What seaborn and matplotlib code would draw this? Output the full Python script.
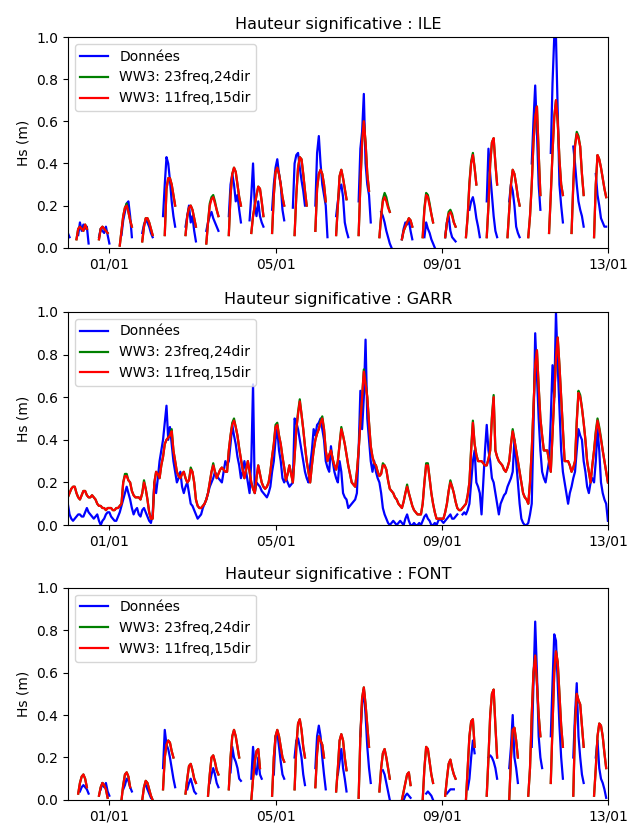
import numpy as np
import pandas as pd
import matplotlib
matplotlib.use("Agg")
import matplotlib.pyplot as plt
import matplotlib.dates as mdates
from matplotlib.lines import Line2D
import seaborn as sns

nan = np.nan
START = pd.Timestamp("2018-12-31 00:00")
END = pd.Timestamp("2019-01-13 00:00")

series_labels = ["Données", "WW3: 23freq,24dir", "WW3: 11freq,15dir"]
series_colors = ["blue", "green", "red"]
sites = ["ILE", "GARR", "FONT"]
yticks = [0.0, 0.2, 0.4, 0.6, 0.8, 1.0]

# ---------------- ILE (hourly pulses: start hour since 31/12 00h, values) ----------------
ile_blue_start = [0, 6, 18, 31, 43, 55, 68, 80, 93, 105, 118, 130, 143, 155, 168, 181, 193,
                  206, 218, 232, 242, 255, 268, 279, 292, 305]
ile_blue = [
    [0.07, 0.05],
    [0.06, 0.12, 0.08, 0.11, 0.09, 0.10, 0.02],
    [0.05, 0.09, 0.08, 0.07, 0.10, 0.06, 0.02],
    [0.06, 0.13, 0.17, 0.21, 0.22, 0.15, 0.05],
    [0.07, 0.11, 0.13, 0.12, 0.10, 0.07, 0.05],
    [0.15, 0.30, 0.43, 0.40, 0.32, 0.22, 0.15, 0.10],
    [0.10, 0.15, 0.20, 0.12, 0.15, 0.08, 0.03],
    [0.08, 0.12, 0.15, 0.17, 0.14, 0.12, 0.10, 0.08],
    [0.15, 0.30, 0.35, 0.30, 0.22, 0.25, 0.18, 0.12],
    [0.13, 0.25, 0.40, 0.20, 0.15, 0.22, 0.15, 0.12, 0.10],
    [0.18, 0.30, 0.38, 0.42, 0.35, 0.30, 0.18, 0.13],
    [0.19, 0.40, 0.44, 0.45, 0.38, 0.32, 0.27, 0.20],
    [0.20, 0.45, 0.53, 0.40, 0.30, 0.25, 0.20, 0.05],
    [0.15, 0.22, 0.28, 0.30, 0.24, 0.12, 0.08, 0.05],
    [0.22, 0.47, 0.55, 0.73, 0.40, 0.30, 0.25, 0.12],
    [0.17, 0.15, 0.12, 0.08, 0.05, 0.02, 0.00],
    [0.04, 0.09, 0.12, 0.11, 0.13, 0.08, 0.04],
    [0.05, 0.12, 0.09, 0.07, 0.04, 0.02, 0.00],
    [0.05, 0.12, 0.15, 0.08, 0.05, 0.04, 0.03],
    [0.18, 0.22, 0.24, 0.20, 0.14, 0.10, 0.05],
    [0.22, 0.47, 0.35, 0.25, 0.15, 0.08, 0.05],
    [0.22, 0.30, 0.27, 0.20, 0.10, 0.07, 0.05],
    [0.40, 0.60, 0.77, 0.55, 0.30, 0.18],
    [0.45, 0.78, 1.00, 1.00, 0.65, 0.30, 0.20, 0.12],
    [0.48, 0.40, 0.30, 0.22, 0.18, 0.15, 0.10],
    [0.35, 0.25, 0.20, 0.14, 0.12, 0.10, 0.10],
]
ile_model_start = [5, 18, 30, 43, 56, 68, 80, 93, 106, 118, 131, 143, 155, 168, 180, 193, 205,
                   218, 230, 242, 254, 266, 278, 291, 304]
ile_red = [
    [0.04, 0.09, 0.10, 0.09, 0.08, 0.11, 0.09],
    [0.04, 0.09, 0.10, 0.09, 0.08, 0.07],
    [0.01, 0.08, 0.15, 0.19, 0.20, 0.17, 0.13, 0.10],
    [0.03, 0.10, 0.14, 0.14, 0.12, 0.09, 0.06],
    [0.06, 0.28, 0.33, 0.33, 0.30, 0.25, 0.20],
    [0.06, 0.15, 0.19, 0.20, 0.18, 0.14, 0.10],
    [0.02, 0.12, 0.20, 0.23, 0.24, 0.21, 0.18, 0.15],
    [0.06, 0.25, 0.35, 0.38, 0.36, 0.30, 0.24, 0.20],
    [0.07, 0.15, 0.20, 0.25, 0.29, 0.28, 0.22, 0.15],
    [0.07, 0.25, 0.36, 0.38, 0.35, 0.30, 0.24, 0.20],
    [0.06, 0.25, 0.38, 0.43, 0.42, 0.35, 0.27, 0.20],
    [0.08, 0.28, 0.35, 0.37, 0.35, 0.30, 0.22],
    [0.06, 0.20, 0.34, 0.37, 0.33, 0.28, 0.23],
    [0.06, 0.30, 0.50, 0.60, 0.50, 0.35, 0.27],
    [0.05, 0.15, 0.22, 0.24, 0.22, 0.19, 0.17],
    [0.04, 0.08, 0.10, 0.12, 0.14, 0.13, 0.10],
    [0.05, 0.18, 0.25, 0.24, 0.20, 0.16, 0.12],
    [0.05, 0.12, 0.16, 0.17, 0.15, 0.12, 0.10],
    [0.05, 0.15, 0.30, 0.40, 0.44, 0.38, 0.30],
    [0.05, 0.20, 0.40, 0.50, 0.52, 0.40, 0.30],
    [0.05, 0.18, 0.30, 0.37, 0.35, 0.30, 0.24, 0.20],
    [0.05, 0.15, 0.30, 0.50, 0.62, 0.67, 0.45, 0.25],
    [0.07, 0.25, 0.45, 0.62, 0.70, 0.60, 0.42, 0.30, 0.25],
    [0.07, 0.30, 0.48, 0.54, 0.52, 0.48, 0.35, 0.25],
    [0.05, 0.30, 0.44, 0.42, 0.38, 0.33, 0.28, 0.24],
]
ile_green = [
    [0.04, 0.09, 0.10, 0.09, 0.08, 0.11, 0.09],
    [0.04, 0.09, 0.10, 0.09, 0.08, 0.07],
    [0.01, 0.08, 0.15, 0.19, 0.21, 0.17, 0.13, 0.10],
    [0.03, 0.10, 0.14, 0.14, 0.12, 0.09, 0.06],
    [0.06, 0.28, 0.33, 0.33, 0.30, 0.25, 0.20],
    [0.06, 0.15, 0.19, 0.20, 0.18, 0.14, 0.10],
    [0.02, 0.12, 0.21, 0.24, 0.25, 0.22, 0.18, 0.15],
    [0.06, 0.25, 0.35, 0.38, 0.36, 0.30, 0.24, 0.20],
    [0.07, 0.15, 0.20, 0.25, 0.29, 0.28, 0.22, 0.15],
    [0.07, 0.25, 0.36, 0.38, 0.35, 0.30, 0.24, 0.20],
    [0.06, 0.25, 0.38, 0.43, 0.42, 0.35, 0.27, 0.20],
    [0.08, 0.28, 0.35, 0.37, 0.35, 0.30, 0.22],
    [0.06, 0.20, 0.34, 0.37, 0.33, 0.28, 0.23],
    [0.06, 0.30, 0.50, 0.60, 0.50, 0.35, 0.27],
    [0.05, 0.15, 0.23, 0.26, 0.24, 0.20, 0.17],
    [0.04, 0.08, 0.10, 0.12, 0.14, 0.13, 0.10],
    [0.05, 0.19, 0.26, 0.25, 0.21, 0.16, 0.12],
    [0.05, 0.12, 0.17, 0.18, 0.16, 0.12, 0.10],
    [0.05, 0.15, 0.31, 0.41, 0.45, 0.38, 0.30],
    [0.05, 0.20, 0.40, 0.50, 0.52, 0.40, 0.30],
    [0.05, 0.18, 0.30, 0.37, 0.35, 0.30, 0.24, 0.20],
    [0.05, 0.15, 0.30, 0.50, 0.62, 0.67, 0.45, 0.25],
    [0.07, 0.25, 0.45, 0.62, 0.70, 0.60, 0.42, 0.30, 0.25],
    [0.07, 0.30, 0.49, 0.55, 0.53, 0.48, 0.35, 0.25],
    [0.05, 0.30, 0.44, 0.42, 0.38, 0.33, 0.28, 0.24],
]

# ---------------- GARR (hourly, continuous from 31/12 00h to 13/01 00h) ----------------
garr_blue = [
    0.10, 0.05, 0.03, 0.02, 0.03, 0.04, 0.05, 0.05, 0.04, 0.04, 0.06, 0.08, 0.06, 0.05, 0.04, 0.03, 0.04, 0.05, 0.02, 0.00, 0.02, 0.03, 0.05, 0.06,
    0.06, 0.04, 0.03, 0.02, 0.02, 0.04, 0.06, 0.09, 0.12, 0.15, 0.18, 0.15, 0.12, 0.08, 0.05, 0.07, 0.08, 0.05, 0.04, 0.07, 0.08, 0.06, 0.04, 0.02,
    0.01, 0.05, 0.20, 0.15, 0.22, 0.30, 0.35, 0.40, 0.48, 0.56, 0.40, 0.46, 0.38, 0.30, 0.25, 0.20, 0.22, 0.25, 0.18, 0.15, 0.18, 0.20, 0.15, 0.10,
    0.09, 0.07, 0.05, 0.03, 0.04, 0.05, 0.08, 0.10, 0.12, 0.15, 0.18, 0.20, 0.22, 0.25, 0.23, 0.22, 0.21, 0.20, 0.25, 0.30, 0.28, 0.30, 0.38, 0.47,
    0.42, 0.38, 0.32, 0.28, 0.22, 0.25, 0.30, 0.25, 0.20, 0.15, 0.30, 0.66, 0.15, 0.20, 0.19, 0.18, 0.16, 0.15, 0.14, 0.13, 0.15, 0.18, 0.25, 0.30,
    0.40, 0.45, 0.35, 0.30, 0.22, 0.20, 0.22, 0.20, 0.18, 0.19, 0.20, 0.50, 0.48, 0.45, 0.40, 0.35, 0.30, 0.25, 0.22, 0.20, 0.28, 0.35, 0.45, 0.42,
    0.47, 0.48, 0.50, 0.45, 0.40, 0.30, 0.27, 0.25, 0.37, 0.30, 0.25, 0.22, 0.20, 0.30, 0.25, 0.15, 0.13, 0.12, 0.08, 0.09, 0.10, 0.11, 0.12, 0.15,
    0.35, 0.63, 0.45, 0.60, 0.87, 0.50, 0.40, 0.30, 0.25, 0.30, 0.25, 0.22, 0.20, 0.15, 0.08, 0.05, 0.03, 0.01, 0.00, 0.01, 0.02, 0.01, 0.00, 0.01,
    0.02, 0.01, 0.00, 0.03, 0.05, 0.02, 0.00, 0.00, 0.01, 0.00, 0.00, 0.01, 0.00, 0.02, 0.04, 0.05, 0.03, 0.02, 0.00, 0.00, 0.01, 0.00, 0.02, 0.03,
    0.02, 0.01, 0.02, 0.03, 0.04, 0.05, 0.03, 0.03, 0.04, 0.05, nan, nan, 0.05, 0.06, 0.05, 0.07, 0.10, 0.20, 0.30, 0.35, 0.20, 0.18, 0.15, 0.05,
    0.20, 0.35, 0.47, 0.35, 0.30, 0.22, 0.20, 0.15, 0.10, 0.05, 0.10, 0.12, 0.14, 0.15, 0.18, 0.20, 0.22, 0.25, 0.40, 0.30, 0.20, 0.10, 0.03, 0.01,
    0.00, 0.00, 0.01, 0.05, 0.10, 0.45, 0.90, 0.70, 0.50, 0.35, 0.25, 0.22, 0.20, 0.25, 0.30, 0.50, 0.75, 0.60, 1.00, 0.75, 0.55, 0.35, 0.25, 0.20,
    0.15, 0.10, 0.15, 0.18, 0.22, 0.25, 0.35, 0.45, 0.42, 0.40, 0.30, 0.25, 0.18, 0.15, 0.20, 0.22, 0.20, 0.30, 0.45, 0.35, 0.20, 0.15, 0.12, 0.10,
    0.02,
]
garr_red = [
    0.13, 0.15, 0.17, 0.18, 0.18, 0.15, 0.13, 0.12, 0.14, 0.16, 0.16, 0.14, 0.13, 0.13, 0.14, 0.13, 0.12, 0.10, 0.09, 0.09, 0.08, 0.08, 0.07, 0.08,
    0.08, 0.08, 0.07, 0.07, 0.08, 0.08, 0.09, 0.10, 0.20, 0.23, 0.23, 0.21, 0.20, 0.16, 0.14, 0.13, 0.13, 0.13, 0.12, 0.15, 0.20, 0.17, 0.12, 0.06,
    0.03, 0.03, 0.20, 0.25, 0.24, 0.22, 0.28, 0.32, 0.38, 0.40, 0.41, 0.42, 0.44, 0.35, 0.30, 0.25, 0.23, 0.22, 0.24, 0.25, 0.22, 0.20, 0.21, 0.26,
    0.25, 0.20, 0.12, 0.09, 0.08, 0.08, 0.09, 0.10, 0.12, 0.15, 0.20, 0.25, 0.28, 0.25, 0.22, 0.24, 0.26, 0.27, 0.26, 0.25, 0.25, 0.35, 0.42, 0.47,
    0.49, 0.46, 0.42, 0.36, 0.31, 0.26, 0.22, 0.26, 0.30, 0.25, 0.20, 0.17, 0.15, 0.22, 0.28, 0.24, 0.20, 0.18, 0.17, 0.18, 0.20, 0.25, 0.32, 0.38,
    0.46, 0.47, 0.42, 0.38, 0.32, 0.27, 0.21, 0.24, 0.28, 0.24, 0.20, 0.32, 0.45, 0.52, 0.58, 0.52, 0.45, 0.37, 0.30, 0.25, 0.20, 0.28, 0.35, 0.40,
    0.43, 0.45, 0.48, 0.50, 0.45, 0.35, 0.30, 0.33, 0.35, 0.31, 0.28, 0.26, 0.30, 0.38, 0.45, 0.42, 0.38, 0.33, 0.28, 0.24, 0.20, 0.19, 0.18, 0.25,
    0.35, 0.48, 0.60, 0.72, 0.66, 0.60, 0.48, 0.37, 0.32, 0.29, 0.28, 0.25, 0.23, 0.24, 0.28, 0.28, 0.26, 0.21, 0.17, 0.16, 0.15, 0.13, 0.12, 0.10,
    0.09, 0.08, 0.11, 0.15, 0.18, 0.15, 0.12, 0.09, 0.07, 0.06, 0.05, 0.05, 0.05, 0.10, 0.20, 0.28, 0.28, 0.22, 0.15, 0.10, 0.06, 0.03, 0.03, 0.03,
    0.03, 0.03, 0.06, 0.10, 0.16, 0.20, 0.18, 0.15, 0.11, 0.08, 0.07, 0.07, 0.08, 0.09, 0.10, 0.14, 0.20, 0.35, 0.48, 0.38, 0.33, 0.30, 0.30, 0.30,
    0.29, 0.28, 0.28, 0.31, 0.35, 0.50, 0.60, 0.35, 0.32, 0.30, 0.29, 0.28, 0.26, 0.25, 0.27, 0.30, 0.38, 0.44, 0.40, 0.35, 0.30, 0.25, 0.20, 0.15,
    0.13, 0.12, 0.10, 0.20, 0.35, 0.55, 0.75, 0.82, 0.65, 0.50, 0.42, 0.35, 0.35, 0.35, 0.30, 0.25, 0.42, 0.60, 0.78, 0.88, 0.75, 0.60, 0.45, 0.30,
    0.30, 0.30, 0.28, 0.25, 0.27, 0.30, 0.48, 0.62, 0.60, 0.55, 0.48, 0.40, 0.30, 0.25, 0.20, 0.28, 0.35, 0.43, 0.49, 0.45, 0.40, 0.35, 0.30, 0.25,
    0.20,
]
garr_green = [
    0.13, 0.15, 0.17, 0.18, 0.18, 0.15, 0.13, 0.12, 0.14, 0.16, 0.16, 0.14, 0.13, 0.13, 0.14, 0.13, 0.12, 0.10, 0.09, 0.09, 0.08, 0.08, 0.07, 0.08,
    0.08, 0.08, 0.07, 0.07, 0.08, 0.08, 0.09, 0.10, 0.20, 0.24, 0.24, 0.21, 0.20, 0.16, 0.14, 0.13, 0.13, 0.13, 0.12, 0.15, 0.21, 0.17, 0.12, 0.06,
    0.03, 0.03, 0.20, 0.25, 0.24, 0.22, 0.28, 0.32, 0.38, 0.40, 0.41, 0.42, 0.45, 0.35, 0.30, 0.25, 0.23, 0.22, 0.24, 0.25, 0.22, 0.20, 0.21, 0.27,
    0.25, 0.20, 0.12, 0.09, 0.08, 0.08, 0.09, 0.10, 0.12, 0.15, 0.20, 0.25, 0.29, 0.25, 0.22, 0.24, 0.26, 0.27, 0.26, 0.25, 0.25, 0.35, 0.42, 0.48,
    0.50, 0.46, 0.42, 0.36, 0.31, 0.26, 0.22, 0.26, 0.30, 0.25, 0.20, 0.17, 0.15, 0.22, 0.28, 0.24, 0.20, 0.18, 0.17, 0.18, 0.20, 0.25, 0.32, 0.38,
    0.47, 0.48, 0.42, 0.38, 0.32, 0.27, 0.21, 0.24, 0.28, 0.24, 0.20, 0.32, 0.45, 0.53, 0.59, 0.52, 0.45, 0.37, 0.30, 0.25, 0.20, 0.28, 0.35, 0.40,
    0.43, 0.45, 0.49, 0.51, 0.45, 0.35, 0.30, 0.33, 0.35, 0.31, 0.28, 0.26, 0.30, 0.38, 0.46, 0.42, 0.38, 0.33, 0.28, 0.24, 0.20, 0.19, 0.18, 0.25,
    0.35, 0.48, 0.60, 0.73, 0.67, 0.60, 0.48, 0.37, 0.32, 0.29, 0.28, 0.25, 0.23, 0.24, 0.29, 0.28, 0.26, 0.21, 0.17, 0.16, 0.15, 0.13, 0.12, 0.10,
    0.09, 0.08, 0.11, 0.15, 0.19, 0.15, 0.12, 0.09, 0.07, 0.06, 0.05, 0.05, 0.05, 0.10, 0.20, 0.29, 0.29, 0.22, 0.15, 0.10, 0.06, 0.03, 0.03, 0.03,
    0.03, 0.03, 0.06, 0.10, 0.16, 0.21, 0.18, 0.15, 0.11, 0.08, 0.07, 0.07, 0.08, 0.09, 0.10, 0.14, 0.20, 0.36, 0.49, 0.38, 0.33, 0.30, 0.30, 0.30,
    0.29, 0.28, 0.28, 0.31, 0.35, 0.51, 0.61, 0.35, 0.32, 0.30, 0.29, 0.28, 0.26, 0.25, 0.27, 0.30, 0.38, 0.45, 0.40, 0.35, 0.30, 0.25, 0.20, 0.15,
    0.13, 0.12, 0.10, 0.20, 0.35, 0.55, 0.75, 0.82, 0.65, 0.50, 0.42, 0.35, 0.35, 0.35, 0.30, 0.25, 0.42, 0.60, 0.78, 0.88, 0.75, 0.60, 0.45, 0.30,
    0.30, 0.30, 0.28, 0.25, 0.27, 0.30, 0.49, 0.63, 0.61, 0.55, 0.48, 0.40, 0.30, 0.25, 0.20, 0.28, 0.35, 0.44, 0.50, 0.46, 0.41, 0.35, 0.30, 0.25,
    0.20,
]

# ---------------- FONT (hourly pulses) ----------------
font_blue_start = [7, 19, 32, 45, 55, 69, 82, 94, 106, 119, 131, 143, 156, 169, 182, 194, 207,
                   219, 231, 243, 255, 268, 279, 292, 305]
font_blue = [
    [0.04, 0.06, 0.07, 0.06, 0.05, 0.03],
    [0.05, 0.08, 0.06, 0.08, 0.04, 0.02],
    [0.05, 0.07, 0.10, 0.09, 0.06, 0.04],
    [0.07, 0.05, 0.03, 0.01],
    [0.15, 0.33, 0.26, 0.24, 0.20, 0.15, 0.10, 0.06],
    [0.05, 0.08, 0.10, 0.07, 0.04, 0.03],
    [0.08, 0.12, 0.15, 0.12, 0.08, 0.06],
    [0.13, 0.25, 0.20, 0.18, 0.15, 0.10, 0.09],
    [0.10, 0.25, 0.15, 0.12, 0.20, 0.12, 0.10],
    [0.12, 0.30, 0.32, 0.25, 0.18, 0.12, 0.10],
    [0.20, 0.28, 0.29, 0.25, 0.20, 0.12, 0.07],
    [0.15, 0.30, 0.35, 0.30, 0.20, 0.12, 0.05],
    [0.12, 0.18, 0.24, 0.15, 0.10, 0.04],
    [0.30, 0.45, 0.52, 0.40, 0.25, 0.15, 0.08],
    [0.14, 0.12, 0.08, 0.04, 0.00],
    [0.00, 0.02, 0.03, 0.02, 0.01],
    [0.03, 0.04, 0.03, 0.02, 0.00],
    [0.03, 0.04, 0.05, 0.05, 0.05],
    [0.05, 0.10, 0.20, 0.28, 0.22],
    [0.20, 0.21, 0.20, 0.18, 0.15, 0.10],
    [0.15, 0.25, 0.40, 0.20, 0.15, 0.08],
    [0.25, 0.55, 0.84, 0.60, 0.30, 0.20, 0.15],
    [0.30, 0.55, 0.78, 0.75, 0.55, 0.35, 0.20, 0.10],
    [0.20, 0.40, 0.55, 0.30, 0.20, 0.12, 0.08],
    [0.20, 0.28, 0.15, 0.10, 0.08, 0.05, 0.01],
]
font_model_start = [6, 18, 31, 43, 55, 68, 81, 93, 106, 118, 131, 143, 155, 168, 180, 193, 205,
                    218, 230, 242, 255, 266, 279, 292, 304]
font_red = [
    [0.03, 0.08, 0.11, 0.12, 0.10, 0.06],
    [0.02, 0.06, 0.08, 0.07, 0.05, 0.01],
    [0.00, 0.07, 0.12, 0.13, 0.11, 0.06],
    [0.00, 0.06, 0.09, 0.08, 0.05, 0.02, 0.00],
    [0.05, 0.20, 0.26, 0.28, 0.27, 0.23, 0.20],
    [0.03, 0.10, 0.16, 0.17, 0.14, 0.10, 0.08],
    [0.02, 0.12, 0.20, 0.21, 0.18, 0.14, 0.12],
    [0.05, 0.20, 0.30, 0.33, 0.30, 0.25, 0.20],
    [0.00, 0.10, 0.18, 0.23, 0.24, 0.15],
    [0.02, 0.20, 0.30, 0.33, 0.30, 0.25, 0.20, 0.18],
    [0.05, 0.25, 0.36, 0.38, 0.33, 0.25, 0.20],
    [0.06, 0.22, 0.30, 0.28, 0.26, 0.20],
    [0.04, 0.15, 0.28, 0.31, 0.28, 0.20, 0.14],
    [0.01, 0.30, 0.48, 0.53, 0.45, 0.35, 0.25],
    [0.04, 0.15, 0.22, 0.24, 0.20, 0.15, 0.10],
    [0.00, 0.04, 0.08, 0.12, 0.13, 0.07],
    [0.00, 0.15, 0.25, 0.24, 0.18, 0.12, 0.08],
    [0.02, 0.10, 0.17, 0.19, 0.15, 0.12, 0.10],
    [0.00, 0.15, 0.30, 0.37, 0.38, 0.25],
    [0.02, 0.20, 0.40, 0.50, 0.52, 0.35, 0.20],
    [0.00, 0.20, 0.33, 0.34, 0.28, 0.20],
    [0.02, 0.15, 0.40, 0.60, 0.68, 0.55, 0.40, 0.30],
    [0.08, 0.35, 0.60, 0.70, 0.65, 0.50, 0.35, 0.25],
    [0.02, 0.35, 0.50, 0.47, 0.45, 0.35, 0.25],
    [0.02, 0.15, 0.30, 0.36, 0.35, 0.30, 0.22, 0.15],
]
font_green = [
    [0.03, 0.08, 0.11, 0.12, 0.10, 0.06],
    [0.02, 0.06, 0.08, 0.07, 0.05, 0.01],
    [0.00, 0.07, 0.12, 0.13, 0.11, 0.06],
    [0.00, 0.06, 0.09, 0.08, 0.05, 0.02, 0.00],
    [0.05, 0.20, 0.26, 0.28, 0.27, 0.23, 0.20],
    [0.03, 0.10, 0.16, 0.17, 0.14, 0.10, 0.08],
    [0.02, 0.12, 0.20, 0.21, 0.18, 0.14, 0.12],
    [0.05, 0.20, 0.30, 0.33, 0.30, 0.25, 0.20],
    [0.00, 0.10, 0.18, 0.23, 0.24, 0.15],
    [0.02, 0.20, 0.30, 0.33, 0.30, 0.25, 0.20, 0.18],
    [0.05, 0.25, 0.36, 0.38, 0.33, 0.25, 0.20],
    [0.06, 0.22, 0.30, 0.28, 0.26, 0.20],
    [0.04, 0.15, 0.28, 0.31, 0.28, 0.20, 0.14],
    [0.01, 0.30, 0.48, 0.53, 0.45, 0.35, 0.25],
    [0.04, 0.15, 0.22, 0.24, 0.20, 0.15, 0.10],
    [0.00, 0.04, 0.08, 0.12, 0.13, 0.07],
    [0.00, 0.15, 0.25, 0.24, 0.18, 0.12, 0.08],
    [0.02, 0.10, 0.17, 0.19, 0.15, 0.12, 0.10],
    [0.00, 0.15, 0.30, 0.37, 0.38, 0.25],
    [0.02, 0.20, 0.40, 0.50, 0.52, 0.35, 0.20],
    [0.00, 0.20, 0.33, 0.34, 0.28, 0.20],
    [0.02, 0.15, 0.40, 0.60, 0.68, 0.55, 0.40, 0.30],
    [0.08, 0.35, 0.60, 0.70, 0.65, 0.50, 0.35, 0.25],
    [0.02, 0.35, 0.50, 0.47, 0.45, 0.35, 0.25],
    [0.02, 0.15, 0.30, 0.36, 0.35, 0.30, 0.22, 0.15],
]


def pulses_frame(starts, pulses, label):
    rows = []
    for k, (s, vals) in enumerate(zip(starts, pulses)):
        for i, v in enumerate(vals):
            rows.append((START + pd.Timedelta(hours=s + i), v, label, k))
    return pd.DataFrame(rows, columns=["time", "Hs", "series", "seg"])


def continuous_frame(vals, label):
    arr = np.array(vals, dtype=float)
    seg = np.cumsum(np.isnan(arr))
    t = START + pd.to_timedelta(np.arange(len(arr)), unit="h")
    df = pd.DataFrame({"time": t, "Hs": arr, "series": label, "seg": seg})
    return df.dropna()


frames = {
    "ILE": pd.concat([
        pulses_frame(ile_blue_start, ile_blue, series_labels[0]),
        pulses_frame(ile_model_start, ile_green, series_labels[1]),
        pulses_frame(ile_model_start, ile_red, series_labels[2]),
    ], ignore_index=True),
    "GARR": pd.concat([
        continuous_frame(garr_blue, series_labels[0]),
        continuous_frame(garr_green, series_labels[1]),
        continuous_frame(garr_red, series_labels[2]),
    ], ignore_index=True),
    "FONT": pd.concat([
        pulses_frame(font_blue_start, font_blue, series_labels[0]),
        pulses_frame(font_model_start, font_green, series_labels[1]),
        pulses_frame(font_model_start, font_red, series_labels[2]),
    ], ignore_index=True),
}

palette = dict(zip(series_labels, series_colors))

fig = plt.figure(figsize=(6.28, 8.23), dpi=100)
rects = [
    [0.108, 0.699, 0.860, 0.256],
    [0.108, 0.362, 0.860, 0.259],
    [0.108, 0.028, 0.860, 0.258],
]

for site, rect in zip(sites, rects):
    ax = fig.add_axes(rect)
    sns.lineplot(data=frames[site], x="time", y="Hs", hue="series", units="seg",
                 estimator=None, hue_order=series_labels, palette=palette,
                 linewidth=1.6, legend=False, ax=ax)
    ax.set_xlim(START, END)
    ax.set_ylim(0, 1.0)
    ax.set_yticks(yticks)
    ax.xaxis.set_major_locator(mdates.DayLocator(bymonthday=[1, 5, 9, 13]))
    ax.xaxis.set_major_formatter(mdates.DateFormatter("%d/%m"))
    ax.set_xlabel("")
    ax.set_ylabel("Hs (m)", fontsize=10)
    ax.tick_params(labelsize=10)
    ax.set_title("Hauteur significative : " + site, fontsize=11.5)
    handles = [Line2D([], [], color=c, lw=1.6) for c in series_colors]
    ax.legend(handles, series_labels, loc="upper left", fontsize=10)

fig.savefig("out.png", dpi=100)
